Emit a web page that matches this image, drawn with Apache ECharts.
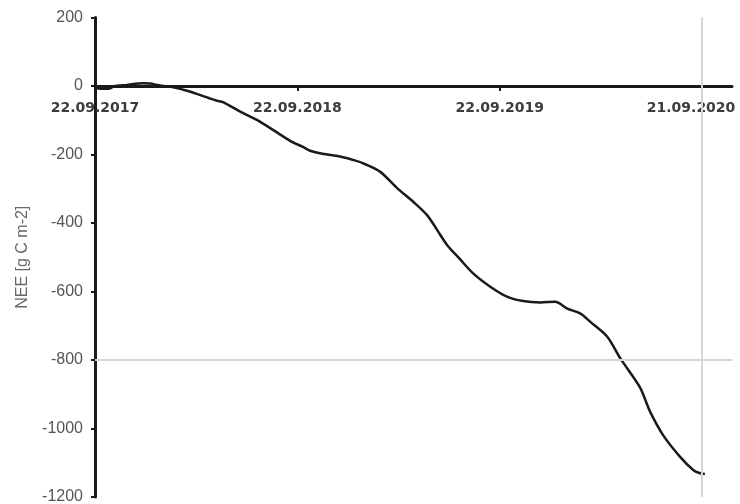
<!DOCTYPE html>
<html>
<head>
<meta charset="utf-8">
<title>NEE</title>
<script src="https://cdn.jsdelivr.net/npm/echarts@6/dist/echarts.min.js"></script>
<style>
  html, body { margin: 0; padding: 0; background: #ffffff; }
  #chart { width: 740px; height: 504px; }
</style>
</head>
<body>
<div id="chart"></div>
<script>
// Cumulative net ecosystem exchange, days since 22.09.2017
const days = [0, 10, 25, 36, 51, 70, 85, 100, 112, 125, 141, 166, 189, 205, 220, 231,
  262, 292, 321, 352, 375, 388, 410, 442, 470, 484, 514, 545, 574, 599, 617, 635,
  658, 682, 713, 743, 772, 803, 830, 852, 875, 893, 924, 947, 983, 1001, 1025, 1055,
  1079, 1090, 1100];
const nee = [-5, -8, -8, 0, 2, 6, 8, 7, 3, 0, -4, -14, -26, -35, -43, -47,
  -75, -99, -128, -160, -178, -189, -198, -206, -218, -226, -250, -298, -338, -377, -420, -464,
  -505, -547, -586, -615, -628, -632, -630, -650, -664, -688, -732, -794, -880, -950, -1020, -1082,
  -1121, -1130, -1133];

// Date ticks on the time axis (days since start)
const tickDays = [0, 365, 730, 1095];
const tickLabels = ['22.09.2017', '22.09.2018', '22.09.2019', '21.09.2020'];

// Reference lines
const refDay = 1095;
const refValue = -800;

const yMin = -1200, yMax = 200;
const gridTop = 17.5, gridBottom = 7, chartHeight = 504;

const series = days.map((d, i) => [d, nee[i]]);

function dateLabel(v) {
  const k = tickDays.findIndex(t => Math.abs(t - Number(v)) < 0.5);
  if (k < 0) return '';
  // last label is nudged left so it stays inside the canvas
  return k === tickDays.length - 1 ? '{edge|' + tickLabels[k] + '}' : tickLabels[k];
}

// The date axis sits on the zero line: shift a top axis down to y = 0
const plotH = chartHeight - gridTop - gridBottom;
const zeroOffset = -plotH * (yMax - 0) / (yMax - yMin);

const labelFont = { color: '#3c3c3c', fontFamily: 'DejaVu Sans', fontWeight: 'bold', fontSize: 14 };

const chart = echarts.init(document.getElementById('chart'));
chart.setOption({
  animation: false,
  backgroundColor: '#ffffff',
  grid: { left: 95, right: 8, top: gridTop, bottom: gridBottom, containLabel: false, outerBoundsMode: 'none' },
  xAxis: {
    type: 'value',
    position: 'top',
    offset: zeroOffset,
    min: 0,
    max: 1149,
    interval: 365,
    axisLine: { show: true, onZero: false, lineStyle: { color: '#1a1a1a', width: 3 } },
    axisTick: { show: true, inside: true, length: 5, customValues: tickDays, lineStyle: { color: '#1a1a1a', width: 2 } },
    axisLabel: Object.assign({
      show: true,
      inside: true,
      margin: 15,
      showMaxLabel: false,
      hideOverlap: false,
      formatter: dateLabel,
      rich: { edge: Object.assign({ padding: [0, 22, 0, 0] }, labelFont) }
    }, labelFont),
    splitLine: { show: false }
  },
  yAxis: {
    type: 'value',
    min: yMin,
    max: yMax,
    interval: 200,
    name: 'NEE [g C m-2]',
    nameLocation: 'middle',
    nameGap: 64,
    nameTextStyle: { color: '#666', fontFamily: 'Liberation Sans', fontSize: 16 },
    axisLine: { show: true, onZero: false, lineStyle: { color: '#1a1a1a', width: 3 } },
    axisTick: { show: true, length: 4, lineStyle: { color: '#1a1a1a', width: 2 } },
    axisLabel: { margin: 12, color: '#555', fontFamily: 'Liberation Sans', fontSize: 16, formatter: v => String(v) },
    splitLine: { show: false }
  },
  series: [{
    type: 'line',
    data: series,
    showSymbol: false,
    smooth: 0.3,
    lineStyle: { color: '#1a1a1a', width: 2.5 },
    z: 3,
    markLine: {
      silent: true,
      symbol: 'none',
      label: { show: false },
      lineStyle: { color: '#d6d6d6', width: 2, type: 'solid' },
      data: [{ xAxis: refDay }, { yAxis: refValue }]
    }
  }]
});
</script>
</body>
</html>
